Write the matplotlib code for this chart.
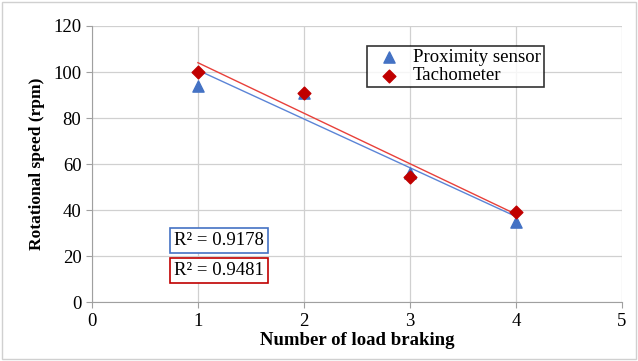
import numpy as np
import matplotlib
matplotlib.use("Agg")
import matplotlib.pyplot as plt

plt.rcParams['font.family'] = ['Liberation Serif', 'DejaVu Serif']

braking = [1, 2, 3, 4]
proximity = [94, 91, 56, 35]
tachometer = [100, 91, 54.5, 39]
r2_labels = ["R\u00b2 = 0.9178", "R\u00b2 = 0.9481"]

blue = '#4472c4'
red = '#c00000'
line_blue = '#5b84d6'
line_red = '#e8403a'

fig = plt.figure(figsize=(6.38, 3.61), dpi=100)
ax = fig.add_axes([0.144, 0.163, 0.831, 0.765])

# linear trend lines
xs = np.array([1, 4])
for y, c in [(proximity, line_blue), (tachometer, line_red)]:
    k, b = np.polyfit(braking, y, 1)
    ax.plot(xs, k * xs + b, color=c, lw=1, zorder=2)

ax.scatter(braking, proximity, marker='^', s=65, color=blue, label='Proximity sensor', zorder=3)
ax.scatter(braking, tachometer, marker='D', s=42, color=red, label='Tachometer', zorder=4)

ax.set_xlim(0, 5)
ax.set_ylim(0, 120)
ax.set_xticks(range(0, 6))
ax.set_yticks(range(0, 121, 20))
ax.grid(True, color='#d0d0d0', lw=0.9)
ax.set_axisbelow(True)
for s in ['top', 'right']:
    ax.spines[s].set_visible(False)
for s in ['left', 'bottom']:
    ax.spines[s].set_color('#a0a0a0')
ax.tick_params(colors='#a0a0a0', labelcolor='black', labelsize=13.5, length=4)

ax.set_xlabel('Number of load braking', fontsize=13.5, fontweight='bold', labelpad=2)
ax.set_ylabel('Rotational speed (rpm)', fontsize=12.5, fontweight='bold', labelpad=6)

leg = ax.legend(loc='upper left', bbox_to_anchor=(0.519, 0.926), fontsize=13.5,
                frameon=True, fancybox=False, handletextpad=0.3, borderpad=0.15,
                labelspacing=0.05, handlelength=2.0, borderaxespad=0)
leg.get_frame().set_edgecolor('black')
leg.get_frame().set_linewidth(1.2)

ax.text(1.2, 26.7, r2_labels[0], fontsize=13.5, ha='center', va='center',
        bbox=dict(boxstyle='square,pad=0.22', fc='white', ec=blue, lw=1.2))
ax.text(1.2, 13.7, r2_labels[1], fontsize=13.5, ha='center', va='center',
        bbox=dict(boxstyle='square,pad=0.22', fc='white', ec=red, lw=1.2))

fig.patches.append(plt.Rectangle((0.003, 0.005), 0.994, 0.99, transform=fig.transFigure,
                                 fill=False, ec='#d0d0d0', lw=1))

fig.savefig('out.png', dpi=100)
